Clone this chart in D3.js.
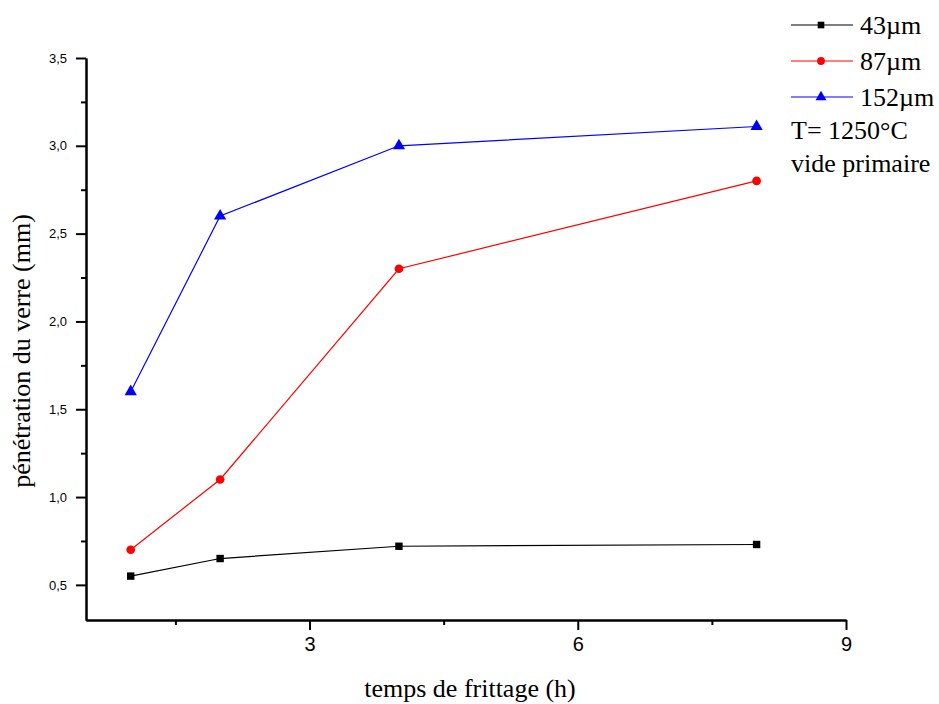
<!DOCTYPE html>
<html>
<head>
<meta charset="utf-8">
<script src="https://cdn.jsdelivr.net/npm/d3@7"></script>
<style>
  body { margin: 0; background: #fff; }
  svg { display: block; }
</style>
</head>
<body>
<svg id="chart" width="939" height="704"></svg>
<script>
// Sintering time (h)
const times = [1, 2, 4, 8];
// Glass penetration depth (mm) per powder grain size
const s43 = [0.55, 0.65, 0.72, 0.73];
const s87 = [0.70, 1.10, 2.30, 2.80];
const s152 = [1.60, 2.60, 3.00, 3.11];
const seriesNames = ["43µm", "87µm", "152µm"];
const seriesColors = ["#000000", "#ff0000", "#0000ff"];
const seriesSymbols = [d3.symbolSquare, d3.symbolCircle, d3.symbolTriangle];
const xTicks = [3, 6, 9];
const yTicks = [0.5, 1.0, 1.5, 2.0, 2.5, 3.0, 3.5];
const notes = ["T= 1250°C", "vide primaire"];

const svg = d3.select("#chart");
const plotLeft = 86, plotRight = 846, plotTop = 58, plotBottom = 620;
const serif = "Liberation Serif, Times New Roman, serif";
const sans = "Liberation Sans, Arial, sans-serif";

const x = d3.scaleLinear().domain([0.5, 9]).range([plotLeft, plotRight]);
const y = d3.scaleLinear().domain([0.3, 3.5]).range([plotBottom, plotTop]);

const fmt = d => d3.format(".1f")(d).replace(".", ",");

// Axes
const xAxis = svg.append("g").attr("transform", `translate(0,${plotBottom})`)
  .call(d3.axisBottom(x).tickValues(xTicks).tickSize(10).tickSizeOuter(0).tickPadding(7).tickFormat(d3.format("d")));
const xMinor = svg.append("g").attr("transform", `translate(0,${plotBottom})`)
  .call(d3.axisBottom(x).tickValues([1.5, 4.5, 7.5]).tickSize(5).tickSizeOuter(0).tickFormat(""));
const yAxis = svg.append("g").attr("transform", `translate(${plotLeft},0)`)
  .call(d3.axisLeft(y).tickValues(yTicks).tickSize(10).tickSizeOuter(0).tickPadding(9).tickFormat(fmt));
const yMinor = svg.append("g").attr("transform", `translate(${plotLeft},0)`)
  .call(d3.axisLeft(y).tickValues([0.75, 1.25, 1.75, 2.25, 2.75, 3.25]).tickSize(5).tickSizeOuter(0).tickFormat(""));

[xAxis, xMinor, yAxis, yMinor].forEach(g => {
  g.select(".domain").attr("stroke", "#000").attr("stroke-width", 2);
  g.selectAll(".tick line").attr("stroke", "#000").attr("stroke-width", 2);
});
xAxis.selectAll(".tick text").style("font-family", sans).style("font-size", "20px").attr("fill", "#000");
yAxis.selectAll(".tick text").style("font-family", sans).style("font-size", "13px").attr("fill", "#000");

// Axis titles
svg.append("text").attr("x", 470).attr("y", 697).attr("text-anchor", "middle")
  .style("font-family", serif).style("font-size", "26px")
  .text("temps de frittage (h)");
svg.append("text").attr("transform", "translate(30,351) rotate(-90)").attr("text-anchor", "middle")
  .style("font-family", serif).style("font-size", "26px")
  .text("pénétration du verre (mm)");

// Series
const allSeries = [s43, s87, s152];
const line = d3.line().x(d => x(d[0])).y(d => y(d[1]));
const symbolSizes = [55, 60, 65];

allSeries.forEach((vals, i) => {
  const pts = times.map((t, j) => [t, vals[j]]);
  svg.append("path").datum(pts).attr("d", line)
    .attr("fill", "none").attr("stroke", seriesColors[i]).attr("stroke-width", 1.2);
  svg.selectAll(null).data(pts).enter().append("path")
    .attr("transform", d => `translate(${x(d[0])},${y(d[1])})`)
    .attr("d", d3.symbol().type(seriesSymbols[i]).size(symbolSizes[i]))
    .attr("fill", seriesColors[i]);
});

// Legend
const legendY = [25, 61, 97];
seriesNames.forEach((name, i) => {
  const g = svg.append("g");
  g.append("line").attr("x1", 791).attr("x2", 853).attr("y1", legendY[i]).attr("y2", legendY[i])
    .attr("stroke", seriesColors[i]).attr("stroke-width", 1.2);
  g.append("path").attr("transform", `translate(821,${legendY[i]})`)
    .attr("d", d3.symbol().type(seriesSymbols[i]).size(symbolSizes[i] * 0.8))
    .attr("fill", seriesColors[i]);
  g.append("text").attr("x", 860).attr("y", legendY[i] + 9)
    .style("font-family", serif).style("font-size", "26px")
    .text(name);
});
const noteY = [130, 163];
notes.forEach((t, i) => {
  svg.append("text").attr("x", 791).attr("y", noteY[i] + 9)
    .style("font-family", serif).style("font-size", "26px")
    .text(t);
});
</script>
</body>
</html>
